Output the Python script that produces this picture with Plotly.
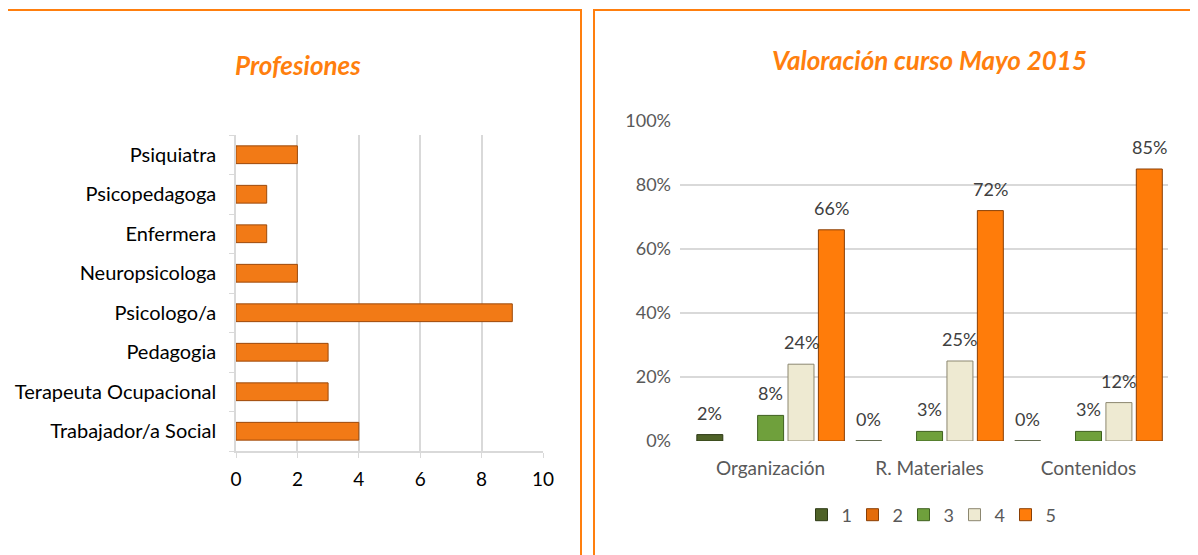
import plotly.graph_objects as go

# ── data ──────────────────────────────────────────────────────────────
profesiones = [
    "Trabajador/a Social", "Terapeuta Ocupacional", "Pedagogia", "Psicologo/a",
    "Neuropsicologa", "Enfermera", "Psicopedagoga", "Psiquiatra",
]
profesiones_n = [4, 3, 3, 9, 2, 1, 1, 2]

aspectos = ["Organización", "R. Materiales", "Contenidos"]
serie_nombres = ["1", "2", "3", "4", "5"]
serie_valores = [
    [0.02, 0.00, 0.00],
    [None, None, None],
    [0.08, 0.03, 0.03],
    [0.24, 0.25, 0.12],
    [0.66, 0.72, 0.85],
]
serie_colores = ["#4F6228", "#E46C0A", "#6FA03C", "#EEEAD2", "#FF7C0A"]
serie_bordes = ["#2E3A16", "#8A3F05", "#3F6020", "#8C8770", "#8A3F05"]

ORANGE = "#FF7F0E"
FONT = "Lato, Carlito, 'Open Sans', sans-serif"
W, H = 1198, 555
OFF = 8          # page body margin
BARGAP = 0.044

fig = go.Figure()

# ── left: horizontal bars ─────────────────────────────────────────────
fig.add_trace(go.Bar(
    x=profesiones_n, y=profesiones, orientation="h",
    marker=dict(color="#F27A16", line=dict(color="#9C4A0C", width=1)),
    width=0.45, showlegend=False,
    xaxis="x", yaxis="y",
))

# ── right: grouped bars ───────────────────────────────────────────────
for name, vals, col, bcol in zip(serie_nombres, serie_valores, serie_colores, serie_bordes):
    fig.add_trace(go.Bar(
        x=aspectos, y=vals, name=name,
        marker=dict(color=col, line=dict(color=bcol, width=1)),
        xaxis="x2", yaxis="y2",
    ))

# data labels above the grouped bars
slot = (1 - BARGAP) / len(serie_nombres)
labels = []
for i, vals in enumerate(serie_valores):
    for j, v in enumerate(vals):
        if v is None:
            continue
        labels.append(dict(
            text=f"{v:.0%}", xref="x2", yref="y2",
            x=j + (i - (len(serie_nombres) - 1) / 2) * slot, y=v,
            yshift=22, xanchor="center", yanchor="middle", showarrow=False,
            font=dict(size=18, color="#404040", family=FONT),
        ))


def px_x(p):
    return (p - OFF) / W


def px_y(p):
    return 1 - (p - OFF) / H


fig.update_layout(
    width=W, height=H,
    margin=dict(l=0, r=0, t=0, b=0, pad=0),
    paper_bgcolor="white", plot_bgcolor="white",
    font=dict(family=FONT, size=18, color="#000000"),
    barmode="group", bargap=BARGAP, bargroupgap=0.145,
    xaxis=dict(
        domain=[px_x(236), px_x(543)], anchor="y", automargin=False,
        range=[0, 10], dtick=2, showgrid=True, gridcolor="#D9D9D9", gridwidth=1.5,
        showline=True, linecolor="#D9D9D9", linewidth=1.5,
        ticks="outside", tickcolor="#D9D9D9", ticklen=5, ticklabelstandoff=5,
        tickfont=dict(size=19, color="#000000"), zeroline=False,
    ),
    yaxis=dict(
        domain=[px_y(451), px_y(135)], anchor="x", automargin=False,
        showline=True, linecolor="#D9D9D9", linewidth=1.5,
        ticks="outside", tickcolor="#D9D9D9", ticklen=5, tickson="boundaries",
        tickfont=dict(size=20, color="#000000"), ticklabelstandoff=14,
    ),
    xaxis2=dict(
        domain=[px_x(680), px_x(1168)], anchor="y2", automargin=False,
        range=[-0.57, 2.5], showgrid=False, showline=False,
        tickfont=dict(size=19, color="#595959"), ticklabelstandoff=14,
    ),
    yaxis2=dict(
        domain=[px_y(441), px_y(121)], anchor="x2", automargin=False,
        range=[0, 1], dtick=0.2, tickformat=".0%",
        showgrid=True, gridcolor="#D9D9D9", gridwidth=1.5, zeroline=False,
        tickfont=dict(size=18, color="#595959"), ticklabelstandoff=8,
    ),
    legend=dict(
        orientation="h", x=px_x(929), xanchor="center", y=px_y(515), yanchor="middle",
        font=dict(size=18, color="#595959"), itemwidth=30, traceorder="normal",
        entrywidth=6, entrywidthmode="pixels",
    ),
    shapes=[
        dict(type="rect", xref="paper", yref="paper",
             x0=px_x(5), x1=px_x(581), y0=px_y(600), y1=px_y(10),
             line=dict(color=ORANGE, width=2)),
        dict(type="rect", xref="paper", yref="paper",
             x0=px_x(594), x1=px_x(1240), y0=px_y(600), y1=px_y(10),
             line=dict(color=ORANGE, width=2)),
    ],
    annotations=[
        dict(text="<b><i>Profesiones</i></b>", xref="paper", yref="paper",
             x=px_x(298), y=px_y(65), xanchor="center", yanchor="middle",
             showarrow=False, font=dict(size=26, color=ORANGE, family=FONT)),
        dict(text="<b><i>Valoración curso Mayo 2015</i></b>", xref="paper", yref="paper",
             x=px_x(929), y=px_y(60), xanchor="center", yanchor="middle",
             showarrow=False, font=dict(size=26, color=ORANGE, family=FONT)),
    ] + labels,
)

fig.write_html("out.html")
